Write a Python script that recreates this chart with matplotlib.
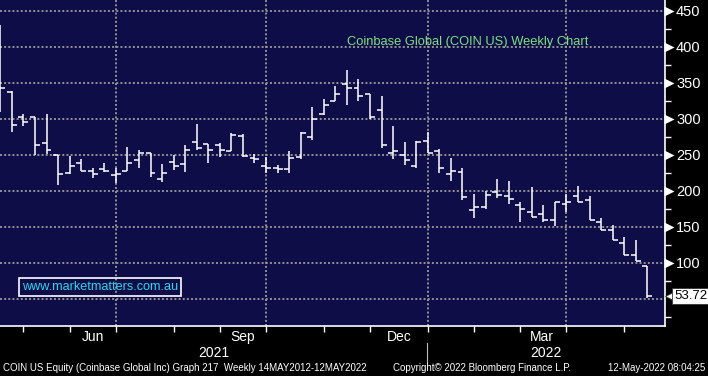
import pandas as pd
import matplotlib
matplotlib.use("Agg")
import matplotlib.pyplot as plt
import matplotlib.dates as mdates
import matplotlib.transforms as mtransforms
from matplotlib.lines import Line2D

# weekly bars (Friday dates), COIN US
weeks = pd.date_range("2021-04-16", periods=57, freq="W-FRI")
opens = [381, 337, 303, 303, 266, 249, 225, 238, 228, 230, 222, 227, 242, 253, 216,
         240, 237, 267, 265, 263, 255, 276, 245, 234, 231, 230, 247, 274, 306, 324,
         348, 343, 334, 312, 252, 250, 235, 269, 255, 223, 226, 173, 177, 198, 192,
         180, 171, 167, 159, 181, 192, 187, 156, 145, 128, 111, 95]
highs = [429.5, 339, 306, 303, 306, 250, 248, 244, 231, 238, 231, 261, 257, 253, 237,
         250, 263, 293, 265, 266, 280, 279, 251, 247, 236, 255, 281, 316, 327, 345,
         368, 355, 335, 331, 290, 268, 269, 281, 258, 245, 231, 196, 200, 216, 213,
         185, 205, 180, 185, 196, 207, 193, 162, 153, 136, 131, 95]
lows = [310, 282, 290, 250, 251, 208, 223, 228, 217, 226, 211, 227, 232, 219, 212,
        229, 226, 256, 239, 247, 255, 247, 239, 224, 225, 224, 244, 271, 305, 324,
        319, 324, 300, 259, 244, 236, 232, 252, 225, 214, 187, 162, 175, 190, 181,
        156, 163, 157, 151, 171, 185, 160, 146, 131, 111, 102, 51]
closes = [342, 291, 296, 263, 257, 223, 235, 228, 223, 228, 223, 239, 253, 224, 224,
          235, 257, 260, 256, 257, 277, 248, 244, 231, 230, 246, 280, 299, 319, 335,
          342, 331, 302, 264, 255, 242, 267, 252, 231, 228, 191, 177, 194, 194, 188,
          175, 164, 159, 185, 185, 185, 160, 146, 131, 111, 103, 53.72]
last_price = 53.72

y_levels = [50, 100, 150, 200, 250, 300, 350, 400, 450]
y_labels = ["", "100", "150", "200", "250", "300", "350", "400", "450"]  # 50 hidden by price box
quarter_lines = ["2021-06-25", "2021-09-24", "2021-12-31", "2022-03-25"]
month_ticks = ["2021-04-30", "2021-05-28", "2021-06-25", "2021-07-30", "2021-08-27",
               "2021-09-24", "2021-10-29", "2021-11-26", "2021-12-31", "2022-01-28",
               "2022-02-25", "2022-03-25", "2022-04-29"]
month_labels = ["Jun", "Sep", "Dec", "Mar"]
month_label_pos = ["2021-06-11", "2021-09-10", "2021-12-14", "2022-03-10"]

navy = "#0e0d48"
grid_col = "#9a9a9a"
font = ["Liberation Sans", "DejaVu Sans"]

fig = plt.figure(figsize=(7.08, 3.76), dpi=100)
fig.patch.set_facecolor("black")
ax = fig.add_axes([0, 50 / 376, 665 / 708, 326 / 376])
ax.set_facecolor(navy)

x = mdates.date2num(weeks)
tick = 3.0  # days, length of open / close ticks

# dotted grid
for lv in y_levels:
    ax.axhline(lv, color=grid_col, lw=1.3, ls=(0, (1.1, 1.2)), zorder=1)
for d in quarter_lines:
    ax.axvline(mdates.date2num(pd.Timestamp(d)), color=grid_col, lw=1.3,
               ls=(0, (1.1, 1.2)), zorder=1)

# OHLC bars
ax.vlines(x, lows, highs, color="white", lw=1.1, zorder=3)
ax.hlines(opens, x - tick, x, color="white", lw=1.1, zorder=3)
ax.hlines(closes, x, x + tick, color="white", lw=1.1, zorder=3)

ax.set_xlim(x[0] - 0.18, x[0] + 402.7)
ax.set_ylim(12.1, 464.9)

for s in ["top", "left"]:
    ax.spines[s].set_visible(False)
for s in ["right", "bottom"]:
    ax.spines[s].set_color("white")
    ax.spines[s].set_linewidth(1.2)

# right price axis
ax.yaxis.tick_right()
ax.set_yticks(y_levels)
ax.set_yticklabels(y_labels)
ax.set_yticks([25, 75, 125, 175, 225, 275, 325, 375, 425], minor=True)
ax.tick_params(axis="y", which="major", length=0, pad=8, labelcolor="white",
               labelsize=10.5)
ax.tick_params(axis="y", which="minor", length=4, width=1, color="white",
               direction="out")
for lab in ax.get_yticklabels():
    lab.set_fontfamily(font)
blend = mtransforms.blended_transform_factory(ax.transAxes, ax.transData)
tri_tr = blend + mtransforms.ScaledTranslation(4 / 100, 0, fig.dpi_scale_trans)
ax.plot([1] * (len(y_levels) - 1), y_levels[1:], ls="none", marker=">", ms=6.5,
        color="white", mec="none", transform=tri_tr, clip_on=False, zorder=5)

# last price box
ax.text(1.0, last_price, "53.72",
        transform=blend + mtransforms.ScaledTranslation(9 / 100, 0, fig.dpi_scale_trans),
        ha="left", va="center", fontsize=9.5, family=font, color="black",
        bbox=dict(boxstyle="square,pad=0.18", fc="white", ec="#333333", lw=0.6),
        clip_on=False, zorder=6)
ax.plot([1], [last_price], ls="none", marker="<", ms=8, color="white",
        mec="#333333", mew=0.6,
        transform=blend + mtransforms.ScaledTranslation(6 / 100, 0, fig.dpi_scale_trans),
        clip_on=False, zorder=5)

# bottom date axis
ax.set_xticks([mdates.date2num(pd.Timestamp(d)) for d in month_ticks])
ax.set_xticklabels([])
ax.set_xticks([mdates.date2num(pd.Timestamp(d)) for d in month_label_pos], minor=True)
ax.set_xticklabels(month_labels, minor=True)
ax.tick_params(axis="x", which="major", length=4, width=1, color="white",
               direction="out")
ax.tick_params(axis="x", which="minor", length=0, pad=3, labelcolor="white",
               labelsize=10)
for lab in ax.get_xticklabels(minor=True):
    lab.set_fontfamily(font)

# year labels and separator
fig.text(214 / 708, 1 - 353 / 376, "2021", ha="center", va="center", color="white",
         fontsize=10, family=font)
fig.text(546 / 708, 1 - 353 / 376, "2022", ha="center", va="center", color="white",
         fontsize=10, family=font)
fig.add_artist(Line2D([427 / 708, 427 / 708], [1 - 343 / 376, 1 - 362 / 376],
                      color="#bbbbbb", lw=0.8))

# title and watermark
ax.text(347 / 665, 1 - 42 / 326, "Coinbase Global (COIN US) Weekly Chart",
        transform=ax.transAxes, ha="left", va="center", color="#7de07d",
        fontsize=9.3, family=font, zorder=6)
ax.text(100 / 665, 1 - 287 / 326, "www.marketmatters.com.au",
        transform=ax.transAxes, ha="center", va="center", color="#2ad6ee",
        fontsize=9.1, family=font, zorder=6,
        bbox=dict(boxstyle="square,pad=0.22", fc="none", ec="white", lw=1.2))

# footer
fig.text(3 / 708, 1 - 368 / 376,
         "COIN US Equity (Coinbase Global Inc) Graph 217  Weekly 14MAY2012-12MAY2022",
         ha="left", va="center", color="white", fontsize=7, family=font)
fig.text(393 / 708, 1 - 368 / 376, "Copyright\u00a9 2022 Bloomberg Finance L.P.",
         ha="left", va="center", color="white", fontsize=7, family=font)
fig.text(705 / 708, 1 - 368 / 376, "12-May-2022 08:04:25",
         ha="right", va="center", color="white", fontsize=7, family=font)

fig.savefig("out.png", dpi=100, facecolor=fig.get_facecolor())
